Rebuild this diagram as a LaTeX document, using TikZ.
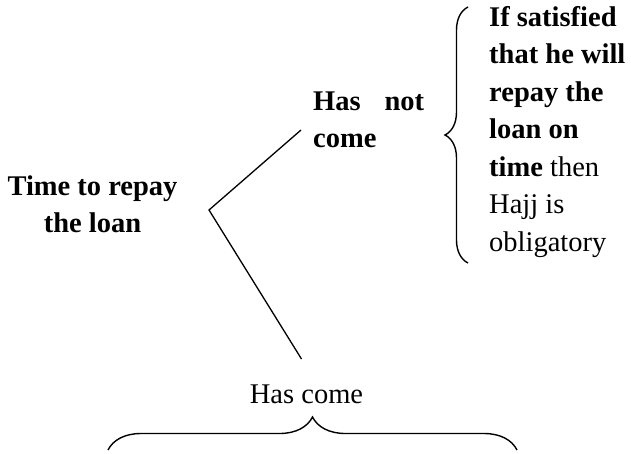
\documentclass[tikz,border=0pt]{standalone}
\usepackage{fontspec}
\setmainfont{Liberation Serif}
\usepackage{tikz}
\usetikzlibrary{decorations.pathreplacing,positioning}
\tikzset{
    %Define style for texts
    txt/.style={
           inner sep=0pt,
           font=\fontsize{28.5}{37.5}\selectfont,
           },
    % Define branch style
    branch/.style={
           line width=1.3pt,
           },
    % Define brace style
    curly/.style={
           decorate,
           decoration={brace,amplitude=#1},
           line width=1.4pt,
           }
}
\begin{document}
\begin{tikzpicture}[x=1pt,y=-1pt]
\useasboundingbox (0,0) rectangle (631,453);
\node[txt, align=center, anchor=north](T) at (92.5,168.75){\strut\textbf{Time to repay}\\\textbf{the loan}};
\node[txt, align=left, anchor=north west](N) at (313,83.75){\strut\textbf{\makebox[111pt][s]{Has not}}\\\textbf{come}};
\node[txt, align=left, anchor=north west](R) at (489,-0.25){\strut\textbf{If satisfied}\\\textbf{that he will}\\\textbf{repay the}\\\textbf{loan on}\\\textbf{time} then\\Hajj is\\obligatory};
\node[txt, anchor=base](C) at (306.5,403){Has come};
\coordinate (fork) at (209,210);
\coordinate (up) at (301,130);
\coordinate (down) at (301.5,359);
\draw[branch] (up) -- (fork) -- (down);
\draw[curly=23pt] (468,263) -- (468,7);
\draw[curly=33pt] (108,450) -- (517,450);
\end{tikzpicture}
\end{document}
